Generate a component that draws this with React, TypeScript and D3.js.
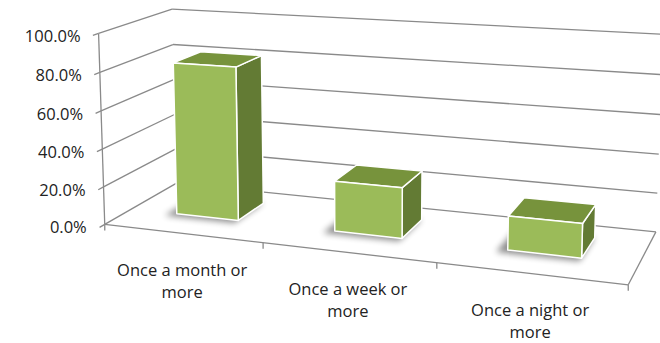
import React from 'react';
import * as d3 from 'd3';

const categories = ['Once a month or more', 'Once a week or more', 'Once a night or more'];
const categoryLines = [
  ['Once a month or', 'more'],
  ['Once a week or', 'more'],
  ['Once a night or', 'more'],
];
const values = [0.81, 0.26, 0.17];
const valueTicks = [0, 0.2, 0.4, 0.6, 0.8, 1.0];

// Frame calibration: 3D point (category units, value, depth) -> screen position of the chart frame
const frame: number[][] = [
  [0, 0, 0, 107, 222],
  [0, 0.2, 0, 105, 186],
  [0, 0.4, 0, 103, 149],
  [0, 0.6, 0, 101, 111],
  [0, 0.8, 0, 99, 73],
  [0, 1, 0, 97, 33],
  [0, 0, 1, 174, 186],
  [0, 0.2, 1, 174, 151],
  [0, 0.8, 1, 174, 43],
  [0, 1, 1, 173, 9],
  [3, 0, 1, 657, 229],
  [3, 0.2, 1, 658, 191],
  [3, 1, 1, 663, 36],
  [3, 0, 0, 627, 288],
  [1, 0, 0, 263, 242],
  [2, 0, 0, 436, 264],
];

function fitProjection(pts: number[][]) {
  const rows: number[][] = [];
  const rhs: number[] = [];
  for (const [X, Y, Z, u0, v0] of pts) {
    const u = (u0 - 380) / 300;
    const v = (v0 - 150) / 150;
    rows.push([X, Y, Z, 1, 0, 0, 0, 0, -u * X, -u * Y, -u * Z]);
    rhs.push(u);
    rows.push([0, 0, 0, 0, X, Y, Z, 1, -v * X, -v * Y, -v * Z]);
    rhs.push(v);
  }
  const M = Array.from({ length: 11 }, () => new Array(12).fill(0));
  for (let r = 0; r < rows.length; r++) {
    for (let i = 0; i < 11; i++) {
      for (let j = 0; j < 11; j++) M[i][j] += rows[r][i] * rows[r][j];
      M[i][11] += rows[r][i] * rhs[r];
    }
  }
  for (let c = 0; c < 11; c++) {
    let p = c;
    for (let r = c + 1; r < 11; r++) if (Math.abs(M[r][c]) > Math.abs(M[p][c])) p = r;
    const t = M[c]; M[c] = M[p]; M[p] = t;
    for (let r = 0; r < 11; r++) {
      if (r === c) continue;
      const f = M[r][c] / M[c][c];
      for (let k = c; k < 12; k++) M[r][k] -= f * M[c][k];
    }
  }
  const P = M.map((row, i) => row[11] / row[i]);
  return (X: number, Y: number, Z: number): [number, number] => {
    const w = P[8] * X + P[9] * Y + P[10] * Z + 1;
    const u = (P[0] * X + P[1] * Y + P[2] * Z + P[3]) / w;
    const v = (P[4] * X + P[5] * Y + P[6] * Z + P[7]) / w;
    return [u * 300 + 380, v * 150 + 150];
  };
}

const proj = fitProjection(frame);

export default function App() {
  const W = 660, H = 343;
  const x = d3.scaleBand<string>().domain(categories).range([0, 3]).paddingInner(0.6).paddingOuter(0.3);
  const y = d3.scaleLinear().domain([0, 1]).range([0, 1]);
  const z = d3.scaleLinear().domain([0, 1]).range([0.36, 0.76]);
  const fmt = d3.format('.1%');
  const poly = (pts: [number, number][]) => 'M' + pts.map(p => p[0].toFixed(2) + ',' + p[1].toFixed(2)).join('L') + 'Z';
  const line = (a: [number, number], b: [number, number]) => ({ x1: a[0], y1: a[1], x2: b[0], y2: b[1] });
  const grid = '#8a8a8a';
  const font = "'Open Sans', sans-serif";
  const X3 = x.range()[1];

  return (
    <svg width={W} height={H} style={{ position: 'absolute', left: 0, top: 0, background: '#fff' }}>
      <defs>
        <filter id="shadow" x="-50%" y="-50%" width="200%" height="200%">
          <feGaussianBlur stdDeviation="3" />
        </filter>
      </defs>
      {valueTicks.map(t => {
        const a = proj(0, y(t), 0), b = proj(0, y(t), 1), c = proj(X3, y(t), 1);
        const dx = a[0] - b[0], dy = a[1] - b[1], len = Math.hypot(dx, dy);
        const tick: [number, number] = [a[0] + (dx / len) * 6, a[1] + (dy / len) * 6];
        return (
          <g key={t} stroke={grid} strokeWidth={1.3} fill="none">
            <line {...line(a, b)} />
            <line {...line(b, c)} />
            <line {...line(tick, a)} />
          </g>
        );
      })}
      <line {...line(proj(0, 0, 0), proj(0, 1, 0))} stroke={grid} strokeWidth={1.3} />
      <line {...line(proj(0, 0, 0), proj(X3, 0, 0))} stroke={grid} strokeWidth={1.3} />
      <line {...line(proj(X3, 0, 0), proj(X3, 0, 1))} stroke={grid} strokeWidth={1.3} />
      {[0, 1, 2, 3].map(k => {
        const p = proj(k, 0, 0);
        return <line key={k} x1={p[0]} y1={p[1]} x2={p[0]} y2={p[1] + 6} stroke={grid} strokeWidth={1.3} />;
      })}
      {valueTicks.map(t => {
        const a = proj(0, y(t), 0);
        return (
          <text key={t} x={a[0] - 18} y={a[1] + 9} textAnchor="end" fontFamily={font} fontSize={16.5} fill="#222">
            {fmt(t)}
          </text>
        );
      })}
      {categories.map((c, i) => {
        const X0 = x(c)!, X1 = X0 + x.bandwidth();
        const Z0 = z(0), Z1 = z(1);
        const Y1 = y(values[i]);
        const front = poly([proj(X0, 0, Z0), proj(X1, 0, Z0), proj(X1, Y1, Z0), proj(X0, Y1, Z0)]);
        const top = poly([proj(X0, Y1, Z0), proj(X1, Y1, Z0), proj(X1, Y1, Z1), proj(X0, Y1, Z1)]);
        const side = poly([proj(X1, 0, Z0), proj(X1, 0, Z1), proj(X1, Y1, Z1), proj(X1, Y1, Z0)]);
        const sh = poly([proj(X0 - 0.05, 0, Z0 - 0.06), proj(X1, 0, Z0 - 0.06), proj(X1, 0, Z1), proj(X0 - 0.05, 0, Z1)]);
        return (
          <g key={c}>
            <path d={sh} fill="#000" opacity={0.45} filter="url(#shadow)" />
            <path d={side} fill="#637b34" stroke="#fff" strokeWidth={1.5} strokeLinejoin="round" />
            <path d={top} fill="#77933c" stroke="#fff" strokeWidth={1.5} strokeLinejoin="round" />
            <path d={front} fill="#9bbb59" stroke="#fff" strokeWidth={1.5} strokeLinejoin="round" />
          </g>
        );
      })}
      {categories.map((c, i) => {
        const p = proj(x(c)! + x.bandwidth() / 2, 0, 0);
        return (
          <text key={c} x={p[0]} y={p[1] + 43} textAnchor="middle" fontFamily={font} fontSize={16.5} fill="#222">
            {categoryLines[i].map((l, j) => (
              <tspan key={j} x={p[0]} dy={j === 0 ? 0 : 22}>{l}</tspan>
            ))}
          </text>
        );
      })}
    </svg>
  );
}
